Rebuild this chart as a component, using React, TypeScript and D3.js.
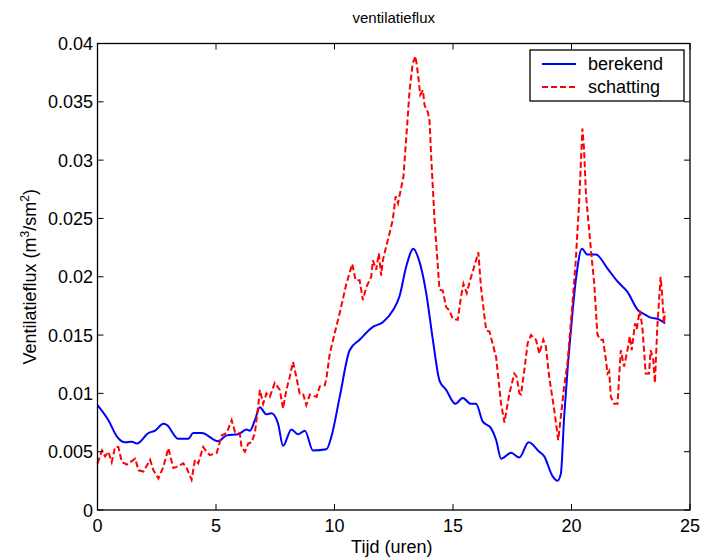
import React from "react";
import * as d3 from "d3";

const blueT = [0, 0.46, 0.82, 1.17, 1.45, 1.66, 2.15, 2.43, 2.78, 2.92,
  3.41, 3.83, 4.04, 4.4, 5.09, 5.45, 5.94, 6.29, 6.43, 6.64,
  6.85, 7.13, 7.34, 7.62, 7.83, 8.18, 8.46, 8.75, 9.09, 9.66,
  9.87, 10.22, 10.64, 11.06, 11.62, 12.04, 12.46, 12.74, 13.03, 13.33,
  13.52, 13.87, 14.15, 14.43, 14.71, 15.1, 15.41, 15.76, 15.97, 16.25,
  16.61, 16.82, 17.03, 17.45, 17.8, 18.19, 18.64, 18.85, 19.2, 19.41,
  19.55, 19.69, 19.85, 20.0, 20.2, 20.44, 20.67, 21.03, 21.52, 21.94,
  22.36, 22.82, 23.06, 23.34, 23.62, 23.95];
const blueV = [0.0090, 0.0077, 0.0063, 0.0058, 0.00585, 0.0057, 0.0066, 0.0068, 0.0074, 0.0073,
  0.0061, 0.0061, 0.0066, 0.0066, 0.0059, 0.0064, 0.0065, 0.0069, 0.0068, 0.0077,
  0.0088, 0.0082, 0.0083, 0.0074, 0.0055, 0.0069, 0.0065, 0.0068, 0.0051, 0.0052,
  0.0063, 0.0097, 0.0137, 0.0146, 0.0157, 0.0161, 0.0171, 0.0183, 0.0209, 0.0224,
  0.0217, 0.0186, 0.0146, 0.0111, 0.0103, 0.0091, 0.0096, 0.0091, 0.0091, 0.0076,
  0.0070, 0.0060, 0.0044, 0.0049, 0.0045, 0.0058, 0.0050, 0.0046, 0.0029, 0.0025,
  0.0031, 0.0080, 0.0125, 0.0160, 0.0200, 0.0224, 0.0219, 0.0219, 0.0207, 0.0196,
  0.0187, 0.0171, 0.0168, 0.0165, 0.0164, 0.0160];

const redT = [0, 0.19, 0.32, 0.46, 0.6, 0.74, 0.88, 1.03, 1.24, 1.38,
  1.59, 1.73, 1.94, 2.22, 2.36, 2.57, 2.78, 2.99, 3.2, 3.34,
  3.62, 3.76, 3.97, 4.11, 4.25, 4.46, 4.6, 4.74, 5.03, 5.24,
  5.45, 5.66, 5.8, 6.0, 6.08, 6.22, 6.36, 6.5, 6.64, 6.78,
  6.85, 6.99, 7.13, 7.27, 7.34, 7.48, 7.69, 7.83, 7.97, 8.11,
  8.25, 8.39, 8.53, 8.67, 8.81, 8.96, 9.24, 9.38, 9.59, 9.66,
  9.8, 10.0, 10.22, 10.5, 10.75, 10.89, 11.06, 11.2, 11.34, 11.55,
  11.62, 11.76, 11.87, 11.97, 12.04, 12.18, 12.32, 12.46, 12.58, 12.68,
  12.82, 12.91, 13.03, 13.17, 13.3, 13.42, 13.52, 13.62, 13.73, 13.8,
  13.94, 14.01, 14.08, 14.22, 14.43, 14.57, 14.71, 14.85, 14.99, 15.2,
  15.34, 15.44, 15.58, 15.72, 15.9, 16.07, 16.18, 16.4, 16.54, 16.82,
  17.03, 17.17, 17.38, 17.59, 17.69, 17.8, 17.87, 18.01, 18.15, 18.29,
  18.5, 18.64, 18.81, 18.92, 19.06, 19.27, 19.44, 19.55, 19.69, 19.83,
  20.04, 20.18, 20.32, 20.46, 20.53, 20.61, 20.67, 20.82, 20.96, 21.09,
  21.2, 21.33, 21.45, 21.52, 21.59, 21.66, 21.8, 21.94, 22.08, 22.22,
  22.36, 22.46, 22.54, 22.68, 22.75, 22.88, 22.99, 23.13, 23.27, 23.34,
  23.45, 23.52, 23.62, 23.76, 23.83, 23.9, 23.95];
const redV = [0.0040, 0.0051, 0.0046, 0.0050, 0.0041, 0.0054, 0.0054, 0.0041, 0.0039, 0.0041,
  0.0044, 0.0034, 0.0033, 0.0043, 0.0034, 0.0027, 0.0037, 0.0053, 0.0036, 0.0037,
  0.0040, 0.0036, 0.0026, 0.0043, 0.0040, 0.0054, 0.0050, 0.0047, 0.0049, 0.0064,
  0.0066, 0.0077, 0.0067, 0.0066, 0.0054, 0.0050, 0.0057, 0.0058, 0.0066, 0.0089,
  0.0103, 0.0091, 0.0100, 0.0097, 0.0101, 0.0109, 0.0103, 0.0087, 0.0103, 0.0114,
  0.0127, 0.0114, 0.0100, 0.0100, 0.0090, 0.0099, 0.0097, 0.0106, 0.0107, 0.0113,
  0.0134, 0.0151, 0.0169, 0.0194, 0.0211, 0.0197, 0.0197, 0.0180, 0.0191, 0.0200,
  0.0214, 0.0206, 0.0220, 0.0201, 0.0214, 0.0226, 0.0237, 0.0249, 0.0269, 0.0263,
  0.0277, 0.0286, 0.0320, 0.0360, 0.0383, 0.0389, 0.0374, 0.0356, 0.0360, 0.0347,
  0.0341, 0.0334, 0.0303, 0.0249, 0.0189, 0.0188, 0.0174, 0.0171, 0.0164, 0.0163,
  0.0183, 0.0194, 0.0186, 0.0197, 0.0209, 0.0221, 0.0191, 0.0154, 0.0153, 0.0131,
  0.0091, 0.0075, 0.0100, 0.0117, 0.0114, 0.0100, 0.0099, 0.0120, 0.0143, 0.0150,
  0.0146, 0.0134, 0.0146, 0.0140, 0.0114, 0.0086, 0.0060, 0.0080, 0.0106, 0.0126,
  0.0177, 0.0214, 0.0263, 0.0327, 0.0309, 0.0271, 0.0257, 0.0223, 0.0194, 0.0151,
  0.0146, 0.0146, 0.0129, 0.0117, 0.0119, 0.0097, 0.0091, 0.0091, 0.0137, 0.0123,
  0.0137, 0.0149, 0.0137, 0.0160, 0.0155, 0.0171, 0.0157, 0.0117, 0.0117, 0.0137,
  0.0129, 0.0109, 0.0157, 0.0200, 0.0183, 0.0160, 0.0170];

const xTicks = [0, 5, 10, 15, 20, 25];
const yTicks = [0, 0.005, 0.01, 0.015, 0.02, 0.025, 0.03, 0.035, 0.04];
const yTickLabels = ["0", "0.005", "0.01", "0.015", "0.02", "0.025", "0.03", "0.035", "0.04"];
const seriesNames = ["berekend", "schatting"];

const W = 702, H = 558;
const L = 97.5, R = 690, T = 43.5, B = 510;
const FONT = "'Liberation Sans', Arial, Helvetica, sans-serif";

export default function App() {
  const x = d3.scaleLinear().domain([0, 25]).range([L, R]);
  const y = d3.scaleLinear().domain([0, 0.04]).range([B, T]);
  const blueLine = d3.line<number>().x((d, i) => x(blueT[i])).y((d) => y(d)).curve(d3.curveMonotoneX);
  const redLine = d3.line<number>().x((d, i) => x(redT[i])).y((d) => y(d));
  const tk = 6;
  return (
    <svg width={W} height={H} style={{ position: "absolute", left: 0, top: 0, background: "#fff" }}
      fontFamily={FONT}>
      <rect x={0} y={0} width={W} height={H} fill="#fff" />
      <text x={(L + R) / 2} y={23} textAnchor="middle" fontSize={15}>ventilatieflux</text>
      <path d={blueLine(blueV) || ""} fill="none" stroke="#0000ff" strokeWidth={2} />
      <path d={redLine(redV) || ""} fill="none" stroke="#ff0000" strokeWidth={2} strokeDasharray="6,3" />
      <rect x={L} y={T} width={R - L} height={B - T} fill="none" stroke="#000" strokeWidth={1.3} />
      {xTicks.map((t) => (
        <g key={"x" + t}>
          <line x1={x(t)} x2={x(t)} y1={B} y2={B - tk} stroke="#000" />
          <line x1={x(t)} x2={x(t)} y1={T} y2={T + tk} stroke="#000" />
          <text x={x(t)} y={532} textAnchor="middle" fontSize={18}>{t}</text>
        </g>
      ))}
      {yTicks.map((t, i) => (
        <g key={"y" + t}>
          <line x1={L} x2={L + tk} y1={y(t)} y2={y(t)} stroke="#000" />
          <line x1={R} x2={R - tk} y1={y(t)} y2={y(t)} stroke="#000" />
          <text x={93} y={y(t) + 6.5} textAnchor="end" fontSize={18}>{yTickLabels[i]}</text>
        </g>
      ))}
      <text x={(L + R) / 2 - 2} y={553} textAnchor="middle" fontSize={18}>Tijd (uren)</text>
      <text transform={`translate(36,${(T + B) / 2}) rotate(-90)`} textAnchor="middle" fontSize={18}>
        Ventilatieflux (m<tspan baselineShift="super" fontSize={12}>3</tspan>/sm<tspan baselineShift="super" fontSize={12}>2</tspan>)
      </text>
      <g>
        <rect x={530} y={50} width={154} height={51} fill="#fff" stroke="#000" strokeWidth={1.3} />
        <line x1={542} x2={576} y1={64} y2={64} stroke="#0000ff" strokeWidth={2} />
        <line x1={542} x2={576} y1={87} y2={87} stroke="#ff0000" strokeWidth={2} strokeDasharray="6,3" />
        <text x={588} y={70} fontSize={18}>{seriesNames[0]}</text>
        <text x={588} y={93} fontSize={18}>{seriesNames[1]}</text>
      </g>
    </svg>
  );
}
